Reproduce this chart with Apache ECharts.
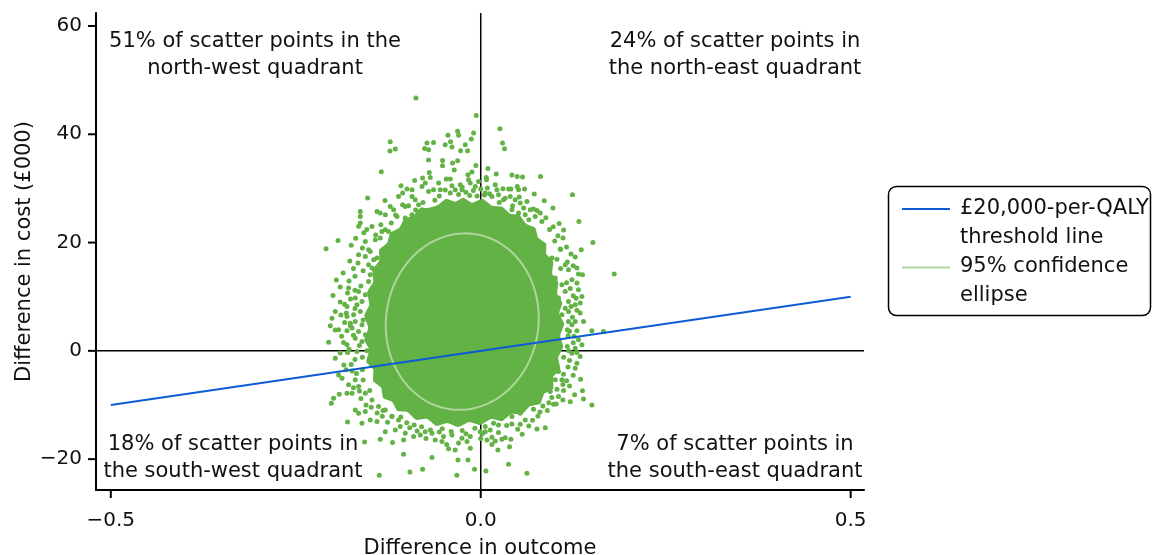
<!DOCTYPE html>
<html>
<head>
<meta charset="utf-8">
<script src="https://cdn.jsdelivr.net/npm/echarts@6/dist/echarts.min.js"></script>
<style>
  html, body { margin: 0; padding: 0; background: #fff; }
  #chart { width: 1152px; height: 555px; }
</style>
</head>
<body>
<div id="chart"></div>
<script>
// Axis ticks
const xTicks = [-0.5, 0, 0.5];
const yTicks = [-20, 0, 20, 40, 60];

// £20,000-per-QALY threshold: cost (£000) = 20 × outcome
const thresholdLine = [[-0.5, -10], [0.5, 10]];

// 95% confidence ellipse: centre, semi-axes and correlation
const ellipseCentre = [-0.025, 5.4];
const ellipseRadii = [0.1034, 16.3];
const ellipseCorr = 0.04;

// Saturated centre of the bootstrap cloud, where replicates overlap completely (outcome, cost)
const coreOutline = [
  [-0.0574, 26.99], [-0.0466, 28.10], [-0.0345, 27.54], [-0.0236, 28.28], [-0.0115, 27.36],
  [0.0020, 28.10], [0.0155, 26.80], [0.0291, 26.62], [0.0399, 25.32], [0.0520, 25.14],
  [0.0615, 23.48], [0.0736, 22.74], [0.0777, 20.89], [0.0885, 19.78], [0.0885, 17.93],
  [0.0980, 16.45], [0.0966, 14.23], [0.1047, 12.75], [0.1034, 10.54], [0.1101, 8.87],
  [0.1061, 6.84], [0.1128, 4.99], [0.1074, 2.77], [0.1115, 0.74], [0.1047, -1.29],
  [0.1074, -3.33], [0.0980, -4.81], [0.0980, -7.02], [0.0858, -7.95], [0.0804, -9.80],
  [0.0669, -10.17], [0.0561, -11.65], [0.0412, -11.65], [0.0291, -12.94], [0.0142, -12.57],
  [-0.0007, -13.68], [-0.0155, -13.12], [-0.0304, -14.05], [-0.0453, -13.31], [-0.0601, -13.86],
  [-0.0723, -12.57], [-0.0872, -12.75], [-0.0993, -11.28], [-0.1128, -11.09], [-0.1196, -9.43],
  [-0.1318, -8.69], [-0.1345, -6.84], [-0.1453, -5.55], [-0.1453, -3.51], [-0.1547, -2.03],
  [-0.1507, 0.18], [-0.1574, 2.03], [-0.1520, 4.25], [-0.1574, 6.47], [-0.1507, 8.50],
  [-0.1534, 10.91], [-0.1453, 12.75], [-0.1466, 14.97], [-0.1372, 16.64], [-0.1372, 18.67],
  [-0.1264, 19.96], [-0.1223, 21.81], [-0.1101, 22.74], [-0.1034, 24.40], [-0.0912, 24.95],
  [-0.0831, 26.25], [-0.0696, 26.43]
];

// Individual bootstrap replicates around the centre (outcome, cost)
const scatterPoints = [
  [-0.0876, 46.71], [-0.1223, 38.63], [-0.1227, 36.91], [-0.1155, 37.28], [-0.1344, 33.09],
  [-0.1529, 28.23], [-0.0727, 38.39], [-0.0638, 38.50], [-0.0759, 37.39], [-0.0705, 37.15],
  [-0.0443, 39.80], [-0.0313, 40.54], [-0.0300, 39.80], [-0.0408, 38.63], [-0.0480, 38.08],
  [-0.0389, 37.65], [-0.0273, 36.97], [-0.0705, 35.25], [-0.0516, 35.18], [-0.0516, 34.20],
  [-0.0381, 34.69], [-0.0313, 35.12], [-0.0358, 33.40], [-0.0696, 32.96], [-0.0894, 31.48],
  [-0.0786, 31.92], [-0.0682, 32.03], [-0.1078, 30.50], [-0.0997, 29.89], [-0.0929, 29.76],
  [-0.0794, 30.37], [-0.0750, 31.00], [-0.0570, 31.00], [-0.0466, 31.74], [-0.0412, 31.74],
  [-0.0277, 30.68], [-0.0254, 29.76], [-0.1294, 27.78], [-0.1111, 28.52], [-0.1056, 29.15],
  [-0.0929, 28.52], [-0.0885, 27.91], [-0.0705, 29.45], [-0.0638, 29.76], [-0.0547, 29.76],
  [-0.0412, 29.15], [-0.0345, 29.76], [-0.1628, 25.75], [-0.1628, 24.82], [-0.1628, 23.60],
  [-0.1402, 25.75], [-0.1358, 25.45], [-0.1290, 25.14], [-0.1223, 26.67], [-0.1178, 26.06],
  [-0.1056, 26.99], [-0.1020, 26.67], [-0.0975, 26.80], [-0.1132, 24.82], [-0.1020, 24.53],
  [-0.0929, 25.14], [-0.0840, 26.99], [-0.1209, 23.60], [-0.0794, 26.06],
  [-0.0061, 43.49], [0.0259, 41.03], [-0.0097, 40.24], [-0.0128, 39.13], [-0.0209, 38.08],
  [-0.0178, 36.97], [0.0295, 38.39], [0.0322, 37.34], [-0.0065, 34.25], [0.0097, 33.70],
  [0.0209, 32.66], [0.0422, 32.48], [0.0493, 32.22], [0.0565, 32.11], [0.0808, 32.22],
  [-0.0119, 33.03], [-0.0173, 32.53], [0.0074, 32.03], [0.0078, 31.61], [-0.0165, 31.61],
  [-0.0142, 31.00], [-0.0074, 30.37], [-0.0030, 31.29], [0.0196, 30.68], [0.0219, 29.76],
  [0.0300, 29.94], [0.0376, 29.89], [0.0408, 29.89], [0.0493, 30.37], [0.0511, 29.76],
  [0.0592, 29.89], [0.0723, 28.96], [0.1240, 28.84], [0.0858, 27.73], [0.0975, 26.38],
  [0.1327, 23.90], [0.0061, 29.15], [0.0151, 28.52], [0.0240, 28.84], [0.0308, 27.91],
  [0.0399, 28.52], [0.0466, 27.91], [0.0534, 27.30], [0.0624, 27.60], [0.0669, 26.06],
  [0.0713, 26.19], [0.0804, 25.45], [0.0736, 24.82], [0.0827, 23.90], [0.0422, 26.06],
  [0.0511, 25.45], [0.0601, 25.14],
  [-0.0200, 29.30], [-0.0100, 29.60], [0.0000, 29.90], [0.0120, 29.00], [-0.0560, 28.60],
  [-0.0150, 28.70], [0.0050, 28.80], [0.0330, 28.20], [0.0580, 26.40], [0.0880, 24.60],
  [0.0930, 22.40], [0.1000, 20.30], [-0.1150, 25.10], [-0.1350, 23.30], [-0.1420, 21.40],
  [-0.1200, -12.10], [-0.1080, -12.20],
  [-0.0880, 26.00], [-0.0780, 27.40], [-0.0620, 27.80], [-0.0480, 29.70], [-0.0300, 28.90],
  [-0.0250, 30.20], [0.0090, 30.10], [0.0250, 27.40], [0.0430, 26.80], [0.0520, 28.40],
  [0.0650, 24.20], [0.0760, 25.90], [-0.0050, 28.60], [-0.0390, 30.50],
  [-0.1929, 20.39], [-0.2091, 18.85], [-0.1952, 13.07], [-0.1786, 11.59], [-0.1800, 10.67],
  [-0.1997, 10.22], [-0.1840, 8.63], [-0.1808, 8.19], [-0.1966, 7.26], [-0.1817, 6.97],
  [-0.1808, 6.34], [-0.2010, 6.04], [-0.2033, 4.62], [-0.1966, 3.83], [-0.1921, 3.88],
  [-0.1840, 5.23], [-0.1763, 5.12], [-0.1808, 3.70], [-0.2056, 1.61], [-0.1854, 1.53],
  [-0.1808, 1.11], [-0.1966, -1.35], [-0.1800, -0.31], [-0.1673, -0.13], [-0.1537, 0.00],
  [-0.1651, 17.74], [-0.1560, 17.43], [-0.1493, 18.35], [-0.1448, 16.82], [-0.1402, 17.13],
  [-0.1560, 20.20], [-0.1516, 18.67], [-0.1425, 20.52], [-0.1358, 20.83], [-0.1335, 22.05],
  [-0.1290, 22.37], [-0.1246, 22.05], [-0.1470, 22.98], [-0.1659, 16.21], [-0.1516, 15.90],
  [-0.1470, 15.29], [-0.1493, 14.05], [-0.1516, 12.81], [-0.1651, 10.96], [-0.1696, 9.74],
  [-0.1605, 9.11], [-0.1560, 10.35], [-0.1673, 8.50], [-0.1628, 7.26], [-0.1718, 6.65],
  [-0.1696, 5.42], [-0.1605, 4.81], [-0.1651, 3.57], [-0.1560, 2.96], [-0.1696, 2.35],
  [-0.1605, 1.72], [-0.1740, 4.20],
  [-0.1700, 13.80], [-0.1620, 12.00], [-0.1750, -2.50], [-0.1600, -3.50], [-0.1680, -4.20],
  [-0.1620, -8.80], [-0.1550, -10.00], [-0.1590, 14.80], [-0.1640, 1.00], [-0.1600, -1.20],
  [-0.1750, 19.50], [-0.1690, 20.80], [-0.1580, 21.80], [-0.1770, 16.60], [-0.1720, 15.20],
  [-0.1860, 14.40], [-0.1780, 12.90], [-0.1700, 11.20], [-0.1900, 11.80], [-0.1760, 9.60],
  [-0.1900, 9.00], [-0.1700, 7.80], [-0.1890, 6.60], [-0.1760, 4.60], [-0.1880, 2.70],
  [-0.1720, 2.90], [-0.1590, 5.70], [-0.1780, 0.30], [-0.1900, -0.40], [-0.1700, -1.60],
  [-0.1850, -2.60], [-0.1740, -3.70], [-0.1820, -3.50], [-0.1590, -5.40], [-0.1720, -6.80],
  [-0.1640, -7.40], [-0.1500, -7.30], [-0.1480, -10.40], [-0.1400, -11.50], [-0.1330, -12.10],
  [-0.1600, 19.00], [-0.1540, 22.40], [-0.1650, 23.00],
  [0.1516, 20.02], [0.1358, 18.67], [0.1277, 17.32], [0.1804, 14.18], [0.1321, 14.18],
  [0.1375, 14.05], [0.1043, 21.26], [0.1111, 20.83], [0.1074, 18.80], [0.1142, 15.90],
  [0.1186, 14.97], [0.1232, 13.12], [0.1300, 12.51], [0.1321, 11.28], [0.1367, 10.04],
  [0.1344, 8.82], [0.1277, 8.50], [0.1344, 6.97], [0.1389, 5.42], [0.1277, 5.42],
  [0.1232, 4.81], [0.1186, 5.42], [0.1502, 3.70], [0.1659, 3.57], [0.1321, 2.03],
  [0.1367, 1.11], [0.1277, 0.50], [0.1232, -0.43], [0.1344, -1.05], [0.0962, 17.13],
  [0.1007, 13.44], [0.1097, 12.20], [0.1142, 10.96], [0.1051, 9.74], [0.1186, 9.11],
  [0.1142, 7.89], [0.1097, 6.65], [0.1186, 7.26],
  [0.1180, 2.80], [0.1250, 1.50], [0.1200, -1.80], [0.1160, -5.50], [0.1200, -6.50],
  [0.1120, -7.30], [0.1200, 3.60], [0.1180, -3.00], [0.1080, 15.20], [0.1030, 16.90],
  [0.1160, 19.20], [0.1220, 17.90], [0.1170, 16.40], [0.1250, 15.70], [0.1300, 15.30],
  [0.1160, 12.60], [0.1250, 10.20], [0.1210, 11.50], [0.1290, 9.70], [0.1220, 8.20],
  [0.1300, 7.50], [0.1240, 6.20], [0.1170, 3.90], [0.1300, 3.70], [0.1260, 2.70],
  [0.1170, 0.80], [0.1300, -0.30], [0.1190, 0.00], [0.1120, -1.20], [0.1250, -4.50],
  [0.1110, -6.20], [0.1020, -9.80], [0.1110, -9.10], [0.1210, -9.40], [0.1080, 18.70],
  [0.1120, 22.30], [0.1060, 23.50], [0.0980, 22.90],
  [-0.2020, -9.67], [-0.1989, -8.74], [-0.1912, -8.00], [-0.1800, -13.12], [-0.1570, -16.82],
  [-0.1371, -22.98], [-0.1043, -19.09], [-0.0957, -22.37], [-0.0786, -21.87], [-0.0659, -19.72],
  [-0.0308, -20.15], [-0.0322, -22.98], [-0.0435, -18.06], [-0.0345, -18.30], [-0.1192, -16.95],
  [-0.1043, -16.45], [-0.1358, -16.32], [-0.1290, -14.92], [-0.1605, -13.36], [-0.1493, -12.75],
  [-0.1402, -13.07], [-0.1696, -10.91], [-0.1651, -11.52], [-0.1560, -11.22], [-0.1786, -6.28],
  [-0.1740, -7.82], [-0.1808, -7.82], [-0.1875, -5.05], [-0.1921, -4.44], [-0.1155, -14.60],
  [-0.1088, -13.99], [-0.1020, -15.21], [-0.0908, -15.84], [-0.0817, -15.53], [-0.0750, -14.92],
  [-0.0659, -15.21], [-0.0615, -16.45], [-0.0524, -16.76], [-0.0503, -15.84], [-0.0389, -15.53],
  [-0.0254, -16.14], [-0.1696, -5.36], [-0.1651, -6.60], [-0.1560, -7.82], [-0.1470, -9.06],
  [-0.1381, -10.30], [-0.1290, -10.91], [-0.1200, -12.14], [-0.1111, -12.75],
  [-0.0800, -14.00], [-0.0680, -14.60], [-0.0400, -14.90], [-0.0200, -15.30], [0.0000, -16.20],
  [-0.0900, -13.70], [-0.1000, -13.30], [-0.0520, -14.40],
  [-0.0960, -14.20], [-0.0860, -14.80], [-0.0740, -16.20], [-0.0560, -15.00], [-0.0460, -17.30],
  [-0.0300, -17.00], [-0.0250, -14.70], [-0.0080, -14.30], [0.0020, -15.30], [0.0150, -17.30],
  [0.0240, -15.10], [0.0420, -13.50], [0.0560, -15.40], [0.0700, -12.80], [0.0840, -10.20],
  [0.0960, -8.60], [-0.1260, -13.20], [-0.1320, -11.00],
  [0.1502, -9.98], [0.1389, -8.87], [0.1375, -7.39], [0.1268, -8.13], [0.1349, -5.23],
  [0.1277, -3.20], [0.1300, -2.27], [0.1119, -4.31], [0.1051, -3.83], [0.0984, -9.85],
  [0.1051, -8.45], [0.1030, -7.08], [0.0872, -14.18], [0.0759, -14.42], [0.0624, -22.61],
  [0.0376, -20.94], [0.0070, -22.18], [-0.0084, -21.87], [-0.0173, -20.15], [0.0232, -18.30],
  [0.0389, -17.69], [0.0408, -16.32], [0.0331, -16.03], [0.0286, -16.32], [0.0196, -16.64],
  [0.0151, -15.95], [0.0084, -16.45], [-0.0142, -15.84], [-0.0142, -17.99], [-0.0186, -16.76],
  [0.0534, -13.55], [0.0601, -12.75], [0.0773, -12.01], [0.0713, -10.78], [0.0646, -9.67],
  [0.0534, -11.52], [0.0466, -11.22], [0.0422, -12.14], [0.0286, -12.44], [0.0376, -10.91],
  [0.0061, -13.99], [0.0128, -14.60], [0.0240, -13.68], [0.0173, -13.36], [-0.0007, -14.92],
  [0.0061, -14.92], [0.0872, -7.21], [0.0939, -7.52], [0.1007, -5.36], [0.1097, -5.36],
  [0.0916, -5.97], [0.0736, -7.82], [0.0804, -8.13], [0.0624, -8.74], [0.0692, -9.67],
  [0.0500, -14.50], [0.0650, -13.90], [0.0800, -11.30], [0.0920, -9.60], [0.0350, -13.80],
  [0.0900, -11.00]
];

// Quadrant annotations and legend entries
const quadrantNotes = {
  nw: ['51% of scatter points in the', 'north-west quadrant'],
  ne: ['24% of scatter points in', 'the north-east quadrant'],
  sw: ['18% of scatter points in', 'the south-west quadrant'],
  se: ['7% of scatter points in', 'the south-east quadrant']
};
const legendLines = {
  threshold: ['£20,000-per-QALY', 'threshold line'],
  ellipse: ['95% confidence', 'ellipse']
};

const FONT = '"DejaVu Sans", "Noto Sans", sans-serif';
const dotColour = '#63b246';
const blue = '#0b5cd5';
const ellipseColour = '#aed69b';
const ink = '#111';
const TICK_LEN = 8;

const minus = s => String(s).replace('-', '\u2212');

const chart = echarts.init(document.getElementById('chart'), null, { renderer: 'canvas' });

function noteText(lines, x, y) {
  return {
    type: 'text', x: x, y: y, silent: true,
    style: {
      text: lines.join('\n'), font: '21px ' + FONT, fill: ink,
      align: 'center', verticalAlign: 'top', textAlign: 'center', textVerticalAlign: 'top',
      lineHeight: 27
    }
  };
}

const option = {
  animation: false,
  backgroundColor: '#fff',
  grid: {
    left: 96, right: 288, top: 13, bottom: 65,
    containLabel: false, outerBoundsMode: 'none'
  },
  xAxis: {
    type: 'value', min: -0.52, max: 0.518,
    name: 'Difference in outcome', nameLocation: 'middle', nameGap: 48,
    nameMoveOverlap: false,
    nameTextStyle: { fontFamily: FONT, fontSize: 21, color: ink },
    axisLine: { onZero: false, lineStyle: { color: '#000', width: 2 } },
    axisTick: { show: false },
    axisLabel: {
      customValues: xTicks, margin: 21, fontFamily: FONT, fontSize: 20, color: ink,
      formatter: v => minus(Number(v).toFixed(1))
    },
    splitLine: { show: false }
  },
  yAxis: {
    type: 'value', min: -25.7, max: 62.4,
    name: 'Difference in cost (£000)', nameLocation: 'middle', nameGap: 61,
    nameMoveOverlap: false,
    nameTextStyle: { fontFamily: FONT, fontSize: 21, color: ink },
    axisLine: { onZero: false, lineStyle: { color: '#000', width: 2 } },
    axisTick: { show: false },
    axisLabel: {
      customValues: yTicks, margin: 14, fontFamily: FONT, fontSize: 20, color: ink,
      formatter: v => minus(v)
    },
    splitLine: { show: false }
  },
  series: [
    {
      // quadrant dividers at zero outcome and zero cost (beneath the cloud), plus outward tick marks
      type: 'custom', z: 1, silent: true, clip: false, data: [0],
      renderItem: (params, api) => {
        const cs = params.coordSys;
        const o = api.coord([0, 0]);
        const st = { stroke: '#000', lineWidth: 1.5 };
        const tickSt = { stroke: '#000', lineWidth: 2 };
        const bottom = cs.y + cs.height;
        const children = [
          { type: 'line', shape: { x1: o[0], y1: cs.y, x2: o[0], y2: bottom }, style: st },
          { type: 'line', shape: { x1: cs.x, y1: o[1], x2: cs.x + cs.width, y2: o[1] }, style: st }
        ];
        xTicks.forEach(v => {
          const px = api.coord([v, 0])[0];
          children.push({ type: 'line', shape: { x1: px, y1: bottom, x2: px, y2: bottom + TICK_LEN }, style: tickSt });
        });
        yTicks.forEach(v => {
          const py = api.coord([0, v])[1];
          children.push({ type: 'line', shape: { x1: cs.x - TICK_LEN, y1: py, x2: cs.x, y2: py }, style: tickSt });
        });
        return { type: 'group', children };
      }
    },
    {
      type: 'custom', z: 2, silent: true, data: [0],
      renderItem: (params, api) => ({
        type: 'polygon',
        shape: { points: coreOutline.map(p => api.coord(p)), smooth: 0.15 },
        style: { fill: dotColour }
      })
    },
    {
      type: 'scatter', z: 3, silent: true,
      symbol: 'circle', symbolSize: 5,
      itemStyle: { color: dotColour, opacity: 1 },
      data: scatterPoints
    },
    {
      type: 'custom', z: 4, silent: true, data: [0],
      renderItem: (params, api) => {
        const pts = [];
        const s = Math.sqrt(1 - ellipseCorr * ellipseCorr);
        for (let i = 0; i < 120; i++) {
          const t = (i / 120) * Math.PI * 2;
          pts.push(api.coord([
            ellipseCentre[0] + ellipseRadii[0] * Math.cos(t),
            ellipseCentre[1] + ellipseRadii[1] * (ellipseCorr * Math.cos(t) + s * Math.sin(t))
          ]));
        }
        return {
          type: 'polygon', shape: { points: pts },
          style: { fill: 'none', stroke: ellipseColour, lineWidth: 2 }
        };
      }
    },
    {
      type: 'line', z: 5, silent: true, showSymbol: false,
      lineStyle: { color: blue, width: 2 },
      data: thresholdLine
    }
  ],
  graphic: [
    noteText(quadrantNotes.nw, 255, 28),
    noteText(quadrantNotes.ne, 735, 28),
    noteText(quadrantNotes.sw, 233, 431),
    noteText(quadrantNotes.se, 735, 431),
    {
      type: 'rect', shape: { x: 888.5, y: 186.5, width: 262, height: 129, r: 8 },
      style: { fill: '#fff', stroke: '#000', lineWidth: 1.5 }
    },
    { type: 'line', shape: { x1: 902, y1: 209, x2: 950, y2: 209 }, style: { stroke: blue, lineWidth: 2 } },
    { type: 'line', shape: { x1: 902, y1: 267.5, x2: 950, y2: 267.5 }, style: { stroke: ellipseColour, lineWidth: 2 } },
    {
      type: 'text', x: 960, y: 194, silent: true,
      style: { text: legendLines.threshold.join('\n'), font: '21px ' + FONT, fill: ink, lineHeight: 29 }
    },
    {
      type: 'text', x: 960, y: 252, silent: true,
      style: { text: legendLines.ellipse.join('\n'), font: '21px ' + FONT, fill: ink, lineHeight: 29 }
    }
  ]
};

chart.setOption(option);
</script>
</body>
</html>
